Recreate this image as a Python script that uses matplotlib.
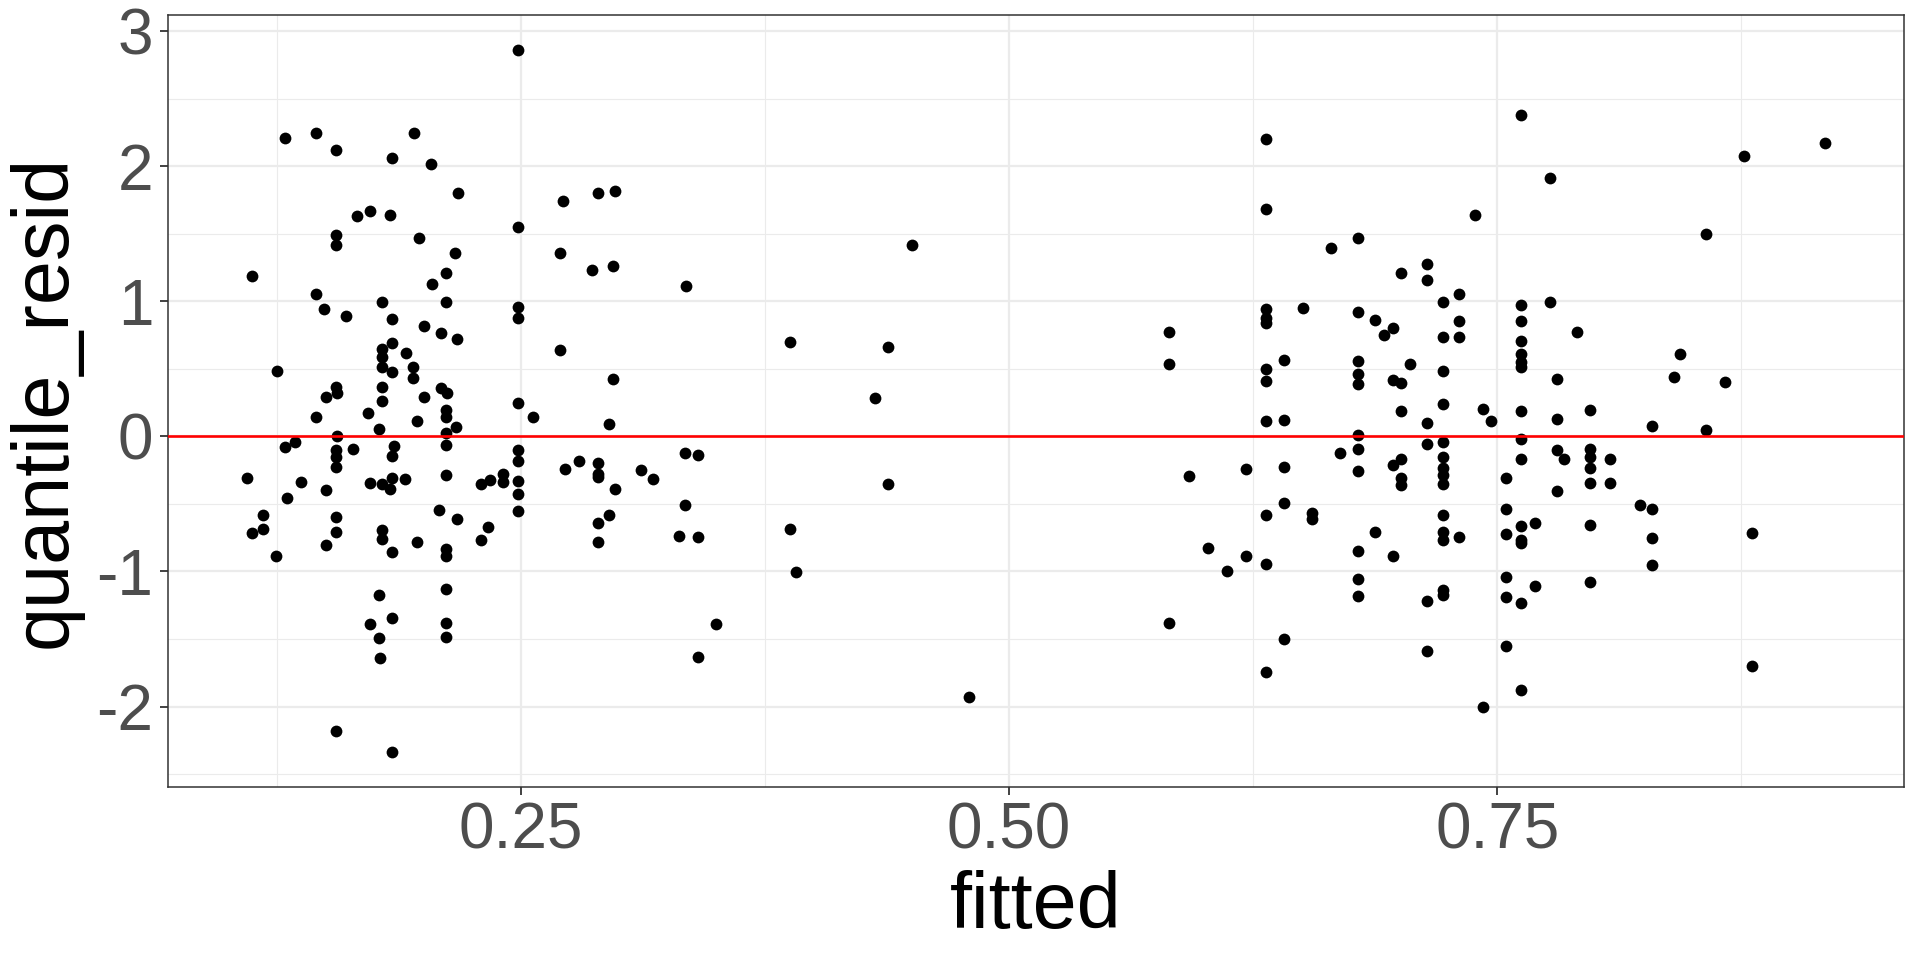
import matplotlib
matplotlib.use("Agg")
import matplotlib.pyplot as plt
import numpy as np
from matplotlib.ticker import FixedLocator, FormatStrFormatter

plt.rcParams['font.family'] = ['Liberation Sans', 'DejaVu Sans']
plt.rcParams['axes.unicode_minus'] = False

# values
fitted = [
    # low group
    0.129, 0.145, 0.155, 0.195, 0.184, 0.204, 0.2175, 0.166, 0.1726, 0.183,
    0.155, 0.1554, 0.1977, 0.216, 0.1123, 0.2115, 0.2046, 0.145, 0.1493, 0.1604,
    0.1787, 0.2115, 0.184, 0.2003, 0.209, 0.217, 0.184, 0.191, 0.1787, 0.1787,
    0.1787, 0.184, 0.1947, 0.1947, 0.1251, 0.155, 0.1555, 0.150, 0.1787, 0.209,
    0.212, 0.2003, 0.1787,
    0.145, 0.1717, 0.1967, 0.2115, 0.2115, 0.2166, 0.1775, 0.1555, 0.2115, 0.129,
    0.134, 0.155, 0.155, 0.155, 0.1638, 0.1849, 0.184, 0.2115, 0.1096, 0.1373,
    0.150, 0.1726, 0.1787, 0.1827, 0.184, 0.1905, 0.2115, 0.1299, 0.118, 0.118,
    0.1123, 0.1246, 0.155, 0.155, 0.150, 0.1787, 0.1787, 0.184, 0.1967, 0.208,
    0.2173, 0.2115, 0.2115, 0.2115, 0.1775, 0.184, 0.1726, 0.1775, 0.178, 0.2115,
    0.2115, 0.155, 0.184,
    0.2485, 0.2714, 0.2894, 0.2981, 0.2485, 0.2699, 0.2865, 0.2969, 0.3343, 0.2485,
    0.2485, 0.2699, 0.2969,
    0.2485, 0.2562, 0.295, 0.2485, 0.2485, 0.2485, 0.2485, 0.2485, 0.2294, 0.2342,
    0.2408, 0.2408, 0.233, 0.2294, 0.2726, 0.2798, 0.2894, 0.2894, 0.2894, 0.2981,
    0.3113, 0.3175, 0.3341, 0.3404, 0.295, 0.2894, 0.2894, 0.3341, 0.331, 0.3404,
    0.3498, 0.3404,
    # middle
    0.4504, 0.3876, 0.4381, 0.4313, 0.4381, 0.3876, 0.391, 0.4794,
    # high group
    0.6314, 0.6314, 0.6647, 0.6786, 0.7009, 0.7139, 0.7139, 0.7222, 0.6314, 0.6314,
    0.6314, 0.6506, 0.6786, 0.6876, 0.6965, 0.6922, 0.7222, 0.5817, 0.5817, 0.6314,
    0.6314, 0.641, 0.6786, 0.6786, 0.6786, 0.6965, 0.7009, 0.7052, 0.7222, 0.7009,
    0.7222, 0.6314, 0.641, 0.7139, 0.6786,
    0.6786, 0.6786, 0.6693, 0.7139, 0.7222, 0.7222, 0.7222, 0.7222, 0.7222, 0.7009,
    0.6965, 0.7009, 0.7009, 0.5919, 0.6215, 0.641, 0.641, 0.6314, 0.6554, 0.6554,
    0.6876, 0.7222, 0.7222, 0.7222, 0.6017, 0.6215, 0.6118, 0.6314, 0.6786, 0.6965,
    0.6786, 0.6786, 0.7139, 0.7222, 0.7222, 0.5817, 0.641, 0.6314, 0.7139,
    0.7621, 0.777, 0.7387, 0.8569, 0.7305, 0.7305, 0.7305, 0.7621, 0.7621, 0.7621,
    0.7621, 0.7621, 0.7621, 0.777, 0.791, 0.7806, 0.8436, 0.8408, 0.8667, 0.7427,
    0.7466, 0.7621, 0.7806, 0.7978, 0.8293, 0.8569,
    0.7621, 0.7621, 0.7545, 0.7545, 0.7621, 0.7695, 0.7545, 0.7621, 0.7621, 0.7305,
    0.7806, 0.7842, 0.7978, 0.7978, 0.7978, 0.7978, 0.8076, 0.8076, 0.7806, 0.7978,
    0.8234, 0.8293, 0.8293, 0.8293, 0.7545, 0.7545, 0.7621, 0.7695, 0.7978, 0.7545,
    0.7621, 0.7427,
    0.8762, 0.918, 0.8806, 0.8806,
]

quantile_resid = [
    2.213, 2.247, 2.119, 2.247, 2.060, 2.016, 1.806, 1.629, 1.666, 1.638,
    1.493, 1.414, 1.471, 1.362, 1.187, 1.209, 1.126, 1.054, 0.945, 0.889,
    0.995, 0.993, 0.867, 0.817, 0.766, 0.719, 0.694, 0.618, 0.645, 0.586,
    0.516, 0.475, 0.512, 0.433, 0.487, 0.368, 0.324, 0.294, 0.368, 0.361,
    0.319, 0.29, 0.265,
    0.147, 0.174, 0.115, 0.196, 0.142, 0.068, 0.053, 0.004, 0.024, -0.075,
    -0.043, -0.1, -0.149, -0.223, -0.095, -0.068, -0.147, -0.065, -0.307, -0.339,
    -0.396, -0.346, -0.354, -0.391, -0.305, -0.317, -0.287, -0.457, -0.581, -0.682,
    -0.716, -0.886, -0.6, -0.706, -0.802, -0.692, -0.758, -0.859, -0.78, -0.544,
    -0.608, -0.834, -0.882, -1.13, -1.177, -1.345, -1.389, -1.495, -1.643, -1.385,
    -1.485, -2.178, -2.336,
    2.861, 1.747, 1.806, 1.818, 1.552, 1.362, 1.234, 1.259, 1.113, 0.958,
    0.874, 0.642, 0.428,
    0.245, 0.142, 0.095, -0.1, -0.181, -0.327, -0.423, -0.549, -0.354, -0.324,
    -0.277, -0.339, -0.667, -0.766, -0.238, -0.184, -0.193, -0.277, -0.302, -0.388,
    -0.25, -0.312, -0.124, -0.134, -0.585, -0.64, -0.783, -0.509, -0.736, -0.743,
    -1.392, -1.636,
    1.419, 0.701, 0.664, 0.282, -0.349, -0.686, -1.002, -1.929,
    2.200, 1.683, 1.394, 1.468, 1.207, 1.276, 1.158, 0.995, 0.943, 0.874,
    0.837, 0.950, 0.918, 0.859, 0.805, 0.748, 0.734, 0.771, 0.539, 0.502,
    0.413, 0.563, 0.558, 0.465, 0.386, 0.418, 0.396, 0.534, 0.487, 0.186,
    0.238, 0.117, 0.122, 0.098, 0.011,
    -0.095, -0.255, -0.122, -0.058, -0.038, -0.149, -0.235, -0.285, -0.354, -0.166,
    -0.211, -0.309, -0.359, -0.292, -0.243, -0.228, -0.494, -0.578, -0.564, -0.608,
    -0.706, -0.583, -0.709, -0.766, -0.825, -0.884, -0.997, -0.943, -0.845, -0.882,
    -1.059, -1.185, -1.217, -1.135, -1.172, -1.382, -1.498, -1.744, -1.589,
    2.378, 1.917, 1.641, 1.5, 1.056, 0.857, 0.738, 0.973, 0.857, 0.709,
    0.608, 0.553, 0.516, 0.993, 0.775, 0.423, 0.608, 0.442, 0.405, 0.201,
    0.112, 0.191, 0.129, 0.196, 0.078, 0.048,
    -0.021, -0.164, -0.307, -0.534, -0.662, -0.642, -0.723, -0.766, -0.79, -0.745,
    -0.099, -0.168, -0.092, -0.154, -0.231, -0.342, -0.166, -0.347, -0.402, -0.654,
    -0.505, -0.537, -0.752, -0.955, -1.038, -1.188, -1.23, -1.104, -1.076, -1.55,
    -1.875, -2.0,
    2.078, 2.172, -0.712, -1.703,
]

x_breaks = [0.25, 0.50, 0.75]
x_minor = [0.125, 0.375, 0.625, 0.875]
y_breaks = [-2, -1, 0, 1, 2, 3]
y_minor = [-2.5, -1.5, -0.5, 0.5, 1.5, 2.5]

x = np.array(fitted)
y = np.array(quantile_resid)

fig = plt.figure(figsize=(19.2, 9.6), dpi=100)
ax = fig.add_axes([0.0875, 0.1802, 0.9042, 0.8042])

# ggplot-like expansion of 5 %
xr = x.max() - x.min()
yr = y.max() - y.min()
ax.set_xlim(x.min() - 0.05 * xr, x.max() + 0.05 * xr)
ax.set_ylim(y.min() - 0.05 * yr, y.max() + 0.05 * yr)

ax.xaxis.set_major_locator(FixedLocator(x_breaks))
ax.xaxis.set_minor_locator(FixedLocator(x_minor))
ax.yaxis.set_major_locator(FixedLocator(y_breaks))
ax.yaxis.set_minor_locator(FixedLocator(y_minor))
ax.xaxis.set_major_formatter(FormatStrFormatter('%.2f'))

ax.grid(which='major', color='#EBEBEB', linewidth=1.6, zorder=0)
ax.grid(which='minor', color='#EBEBEB', linewidth=0.8, zorder=0)
ax.set_axisbelow(True)

ax.scatter(x, y, s=72, color='black', linewidths=0, zorder=3)
ax.axhline(0, color='#FF0000', linewidth=1.9, zorder=4)

for sp in ax.spines.values():
    sp.set_color('#333333')
    sp.set_linewidth(1.1)

ax.tick_params(which='major', length=5.5, width=1.3, color='#333333',
               labelcolor='#4D4D4D', labelsize=46, pad=5)
ax.tick_params(which='minor', length=0)

ax.set_xlabel('fitted', fontsize=57, labelpad=6)
ax.set_ylabel('quantile_resid', fontsize=57, labelpad=10)

fig.savefig('out.png', dpi=100, facecolor='white')
